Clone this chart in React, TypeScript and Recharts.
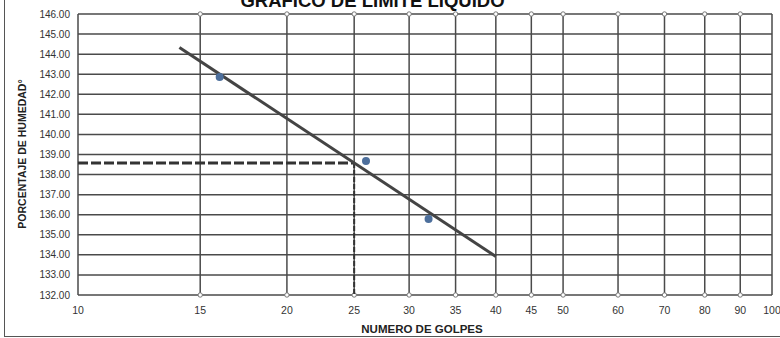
import { ScatterChart, Scatter, XAxis, YAxis, CartesianGrid, ReferenceDot } from 'recharts';

// numero de golpes vs porcentaje de humedad
const ensayos = [
  { x: 16, y: 142.86 },
  { x: 26, y: 138.68 },
  { x: 32, y: 135.79 },
];

// linea de tendencia (semi-log)
const tendencia = [
  { x: 14, y: 144.33 },
  { x: 40, y: 133.92 },
];

// limite liquido a 25 golpes
const limiteH = [
  { x: 10, y: 138.58 },
  { x: 25, y: 138.58 },
];
const limiteV = [
  { x: 25, y: 138.58 },
  { x: 25, y: 132 },
];

const xTicks = [10, 15, 20, 25, 30, 35, 40, 45, 50, 60, 70, 80, 90, 100];
const yTicks = [132, 133, 134, 135, 136, 137, 138, 139, 140, 141, 142, 143, 144, 145, 146];

const FONT = '"Liberation Sans", Arial, sans-serif';
const noShape = () => <g />;

export default function App() {
  return (
    <div style={{ position: 'relative', width: 780, height: 338, overflow: 'hidden', background: '#fff', fontFamily: FONT }}>
      <style>{'body{margin:0}'}</style>
      <div style={{ position: 'absolute', left: 4, top: 0, width: 1, height: 337, background: '#555' }} />
      <div style={{ position: 'absolute', left: 4, top: 336, width: 776, height: 1, background: '#555' }} />
      <div
        style={{
          position: 'absolute', top: -8.5, left: 0, width: 745, textAlign: 'center',
          fontSize: 18.5, fontWeight: 700, lineHeight: 1, color: '#111',
        }}
      >
        GRAFICO DE LIMITE LIQUIDO
      </div>
      <div
        style={{
          position: 'absolute', left: 22, top: 154, transform: 'translate(-50%, -50%) rotate(-90deg)',
          whiteSpace: 'nowrap', fontSize: 10.5, fontWeight: 700, color: '#222',
        }}
      >
        PORCENTAJE DE HUMEDAD°
      </div>
      <div
        style={{
          position: 'absolute', left: 422, top: 329, transform: 'translate(-50%, -50%)',
          whiteSpace: 'nowrap', fontSize: 11.5, fontWeight: 700, color: '#222',
        }}
      >
        NUMERO DE GOLPES
      </div>
      <div style={{ position: 'absolute', left: 0, top: 0 }}>
        <ScatterChart width={780} height={338} margin={{ top: 14, right: 8, left: 18, bottom: 13 }}>
          <CartesianGrid stroke="#4a4a4a" strokeWidth={1.5} />
          <XAxis
            type="number"
            dataKey="x"
            scale="log"
            domain={[10, 100]}
            ticks={xTicks}
            allowDataOverflow
            axisLine={false}
            tickLine={false}
            tick={{ fontSize: 10.5, fill: '#333', fontFamily: FONT, dy: 4 }}
            height={30}
            interval={0}
          />
          <YAxis
            type="number"
            dataKey="y"
            domain={[132, 146]}
            ticks={yTicks}
            allowDataOverflow
            axisLine={false}
            tickLine={false}
            tick={{ fontSize: 10, fill: '#333', fontFamily: FONT }}
            tickFormatter={(v: number) => v.toFixed(2)}
            width={60}
            interval={0}
          />
          {xTicks.slice(1, -1).map((t) => (
            <ReferenceDot key={`top-${t}`} x={t} y={146} r={2.2} fill="#fff" stroke="#777" ifOverflow="visible" />
          ))}
          {xTicks.slice(1, -1).map((t) => (
            <ReferenceDot key={`bot-${t}`} x={t} y={132} r={2.2} fill="#fff" stroke="#777" ifOverflow="visible" />
          ))}
          <Scatter
            data={limiteH}
            line={{ stroke: '#333', strokeWidth: 3, strokeDasharray: '10 3' }}
            shape={noShape}
            isAnimationActive={false}
          />
          <Scatter
            data={limiteV}
            line={{ stroke: '#333', strokeWidth: 2, strokeDasharray: '5 2' }}
            shape={noShape}
            isAnimationActive={false}
          />
          <Scatter
            data={tendencia}
            line={{ stroke: '#444', strokeWidth: 3 }}
            shape={noShape}
            isAnimationActive={false}
          />
          <Scatter
            data={ensayos}
            shape={(p: any) => <circle cx={p.cx} cy={p.cy} r={4} fill="#4d6f9c" />}
            isAnimationActive={false}
          />
        </ScatterChart>
      </div>
    </div>
  );
}
